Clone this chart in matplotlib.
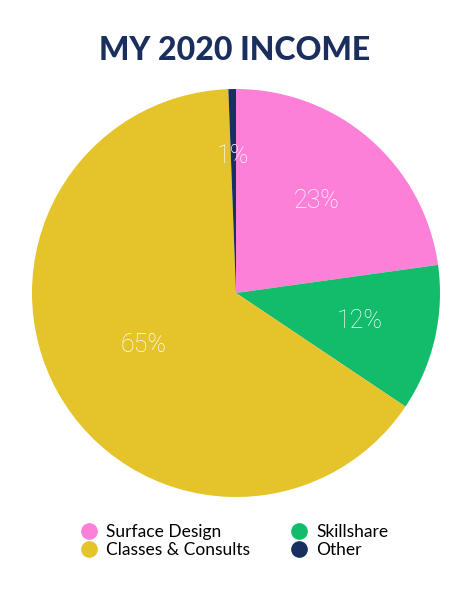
import matplotlib.pyplot as plt
from matplotlib.lines import Line2D
import numpy as np

# slice data, clockwise from the top
labels = ['Surface Design', 'Skillshare', 'Classes & Consults', 'Other']
values = [22.8, 11.6, 65.0, 0.6]
pct_text = ['23%', '12%', '65%', '1%']
colors = ['#FD80D8', '#12BC6A', '#E5C32A', '#17305F']

navy = '#1A2F5E'

fig = plt.figure(figsize=(4.74, 5.92), dpi=100)
fig.patch.set_facecolor('white')

ax = fig.add_axes([32 / 474, 95 / 592, 408 / 474, 408 / 592])
wedges, texts = ax.pie(values, colors=colors, startangle=90, counterclock=False,
                       radius=1.0, wedgeprops=dict(linewidth=0))
ax.set_aspect('equal')
ax.set_xlim(-1, 1)
ax.set_ylim(-1, 1)
ax.axis('off')

dists = [0.6, 0.62, 0.52, 0.67]
for w, t, d in zip(wedges, pct_text, dists):
    ang = np.deg2rad((w.theta1 + w.theta2) / 2)
    ax.text(d * np.cos(ang), d * np.sin(ang), t, ha='center', va='center',
            color='white', fontsize=18, family='Roboto', fontweight='light')

fig.text(0.494, 0.914, 'MY 2020 INCOME', ha='center', va='center',
         fontsize=23, family='Lato', fontweight='black', color=navy)

order = [0, 2, 1, 3]
handles = [Line2D([], [], marker='o', linestyle='none', markersize=11,
                  markerfacecolor=colors[i], markeredgecolor=colors[i]) for i in order]
fig.legend(handles, [labels[i] for i in order], ncol=2, loc='center',
           bbox_to_anchor=(0.492, 0.086), frameon=False,
           prop=dict(family='Lato', size=12.5), labelspacing=0.15,
           handletextpad=0.4, columnspacing=2.2, handlelength=1.2)

fig.savefig('out.png', dpi=100)
